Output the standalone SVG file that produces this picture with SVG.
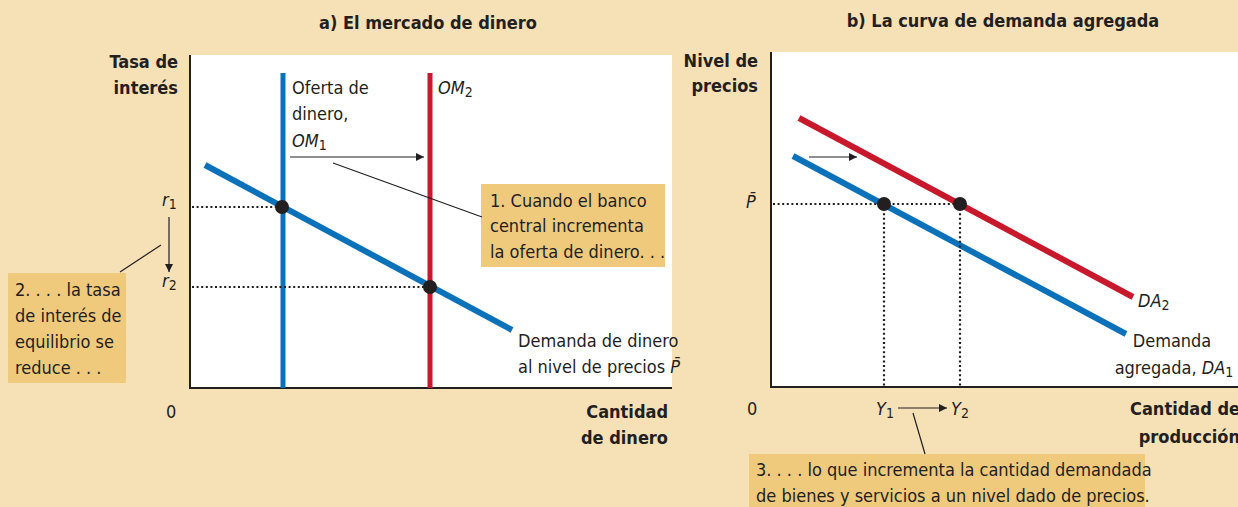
<svg xmlns="http://www.w3.org/2000/svg" width="1238" height="507" viewBox="0 0 1238 507">
<defs>
<style>
text{font-family:"Liberation Sans Narrow","DejaVu Sans Condensed","Roboto Condensed","Liberation Sans",sans-serif;fill:#231F20;font-size:18px}
.b{font-weight:bold}
.i{font-style:italic}
.s{font-size:14px}
.blue{stroke:#0B72BA;fill:none}
.red{stroke:#C8182B;fill:none}
.dot{stroke:#231F20;stroke-width:2.2;stroke-dasharray:2 2.6;fill:none}
.ax{stroke:#231F20;stroke-width:2;fill:none}
.lead{stroke:#231F20;stroke-width:1.2;fill:none}
.box{fill:#EFC97C}
.pt{fill:#231F20}
</style>
<marker id="ah" viewBox="0 0 10 10" refX="10" refY="5" markerWidth="10" markerHeight="8" markerUnits="userSpaceOnUse" orient="auto">
<path d="M0,0 L10,5 L0,10 Z" fill="#231F20"/>
</marker>
</defs>
<rect width="1238" height="507" fill="#F6E0B6"/>

<g id="panel-a">
<rect x="190" y="55" width="482" height="333" fill="#fff"/>
<text class="b" x="428" y="29" text-anchor="middle">a) El mercado de dinero</text>
<text class="b" x="178" y="68" text-anchor="end">Tasa de</text>
<text class="b" x="178" y="94" text-anchor="end">interés</text>
<text class="b" x="668" y="418" text-anchor="end">Cantidad</text>
<text class="b" x="668" y="444" text-anchor="end">de dinero</text>
<text x="166" y="418">0</text>
<path class="ax" d="M190,55 V388 H672"/>
</g>

<g id="curves-a">
<line id="om1" class="blue" x1="283" y1="73" x2="283" y2="388" stroke-width="5"/>
<line id="om2" class="red" x1="430" y1="73" x2="430" y2="388" stroke-width="5"/>
<line id="md" class="blue" x1="205" y1="165" x2="512" y2="330" stroke-width="6"/>
<path class="dot" d="M192,207 H282 M192,287 H430"/>
<circle class="pt" cx="282" cy="207" r="7"/>
<circle class="pt" cx="430" cy="287" r="7"/>
</g>

<g id="labels-a">
<text x="292" y="94">Oferta de</text>
<text x="292" y="120">dinero,</text>
<text x="292" y="147"><tspan class="i">OM</tspan><tspan class="s" dy="3">1</tspan></text>
<text x="438" y="94"><tspan class="i">OM</tspan><tspan class="s" dy="3">2</tspan></text>
<text x="162" y="206"><tspan class="i">r</tspan><tspan class="s" dy="3">1</tspan></text>
<text x="162" y="287"><tspan class="i">r</tspan><tspan class="s" dy="3">2</tspan></text>
<text x="518" y="347">Demanda de dinero</text>
<text x="518" y="373">al nivel de precios <tspan class="i">P̄</tspan></text>
</g>

<g id="note1">
<rect class="box" x="481" y="184" width="184" height="83"/>
<text x="490" y="207">1. Cuando el banco</text>
<text x="490" y="232">central incrementa</text>
<text x="490" y="258">la oferta de dinero. . .</text>
</g>

<g id="note2">
<rect class="box" x="8" y="273" width="118" height="110"/>
<text x="15" y="296">2. . . . la tasa</text>
<text x="15" y="322">de interés de</text>
<text x="15" y="348">equilibrio se</text>
<text x="15" y="374">reduce . . .</text>
</g>

<g id="panel-b">
<rect x="771" y="52" width="467" height="335" fill="#fff"/>
<text class="b" x="1003" y="27" text-anchor="middle">b) La curva de demanda agregada</text>
<text class="b" x="758" y="67" text-anchor="end">Nivel de</text>
<text class="b" x="758" y="92" text-anchor="end">precios</text>
<text class="b" x="1240" y="415" text-anchor="end">Cantidad de</text>
<text class="b" x="1240" y="443" text-anchor="end">producción</text>
<text x="747" y="415">0</text>
<path class="ax" d="M771,52 V387 H1238"/>
</g>

<g id="curves-b">
<line id="da2" class="red" x1="799" y1="118" x2="1133" y2="297" stroke-width="6"/>
<line id="da1" class="blue" x1="793" y1="156" x2="1126" y2="334" stroke-width="6"/>
<path class="dot" d="M773,204 H960 M884,204 V386 M960,204 V386"/>
<circle class="pt" cx="884" cy="204" r="7"/>
<circle class="pt" cx="960" cy="204" r="7"/>
</g>

<g id="labels-b">
<text class="i" x="746" y="208">P̄</text>
<text x="1138" y="307"><tspan class="i">DA</tspan><tspan class="s" dy="3">2</tspan></text>
<text x="1172" y="347" text-anchor="middle">Demanda</text>
<text x="1174" y="374" text-anchor="middle">agregada, <tspan class="i">DA</tspan><tspan class="s" dy="3">1</tspan></text>
<text x="876" y="415"><tspan class="i">Y</tspan><tspan class="s" dy="3">1</tspan></text>
<text x="951" y="415"><tspan class="i">Y</tspan><tspan class="s" dy="3">2</tspan></text>
</g>

<g id="note3">
<rect class="box" x="749" y="454" width="396" height="53"/>
<text x="756" y="476">3. . . . lo que incrementa la cantidad demandada</text>
<text x="756" y="502">de bienes y servicios a un nivel dado de precios.</text>
</g>

<g id="connectors">
<line x1="290" y1="157" x2="424" y2="157" class="lead" marker-end="url(#ah)"/>
<line x1="333" y1="163" x2="482" y2="217" class="lead"/>
<line x1="169" y1="217" x2="169" y2="272" class="lead" marker-end="url(#ah)"/>
<line x1="120" y1="272" x2="161" y2="245" class="lead"/>
<line x1="809" y1="157" x2="857" y2="157" class="lead" marker-end="url(#ah)"/>
<line x1="898" y1="408" x2="947" y2="408" class="lead" marker-end="url(#ah)"/>
<line x1="913" y1="413" x2="925" y2="454" class="lead"/>
</g>
</svg>
